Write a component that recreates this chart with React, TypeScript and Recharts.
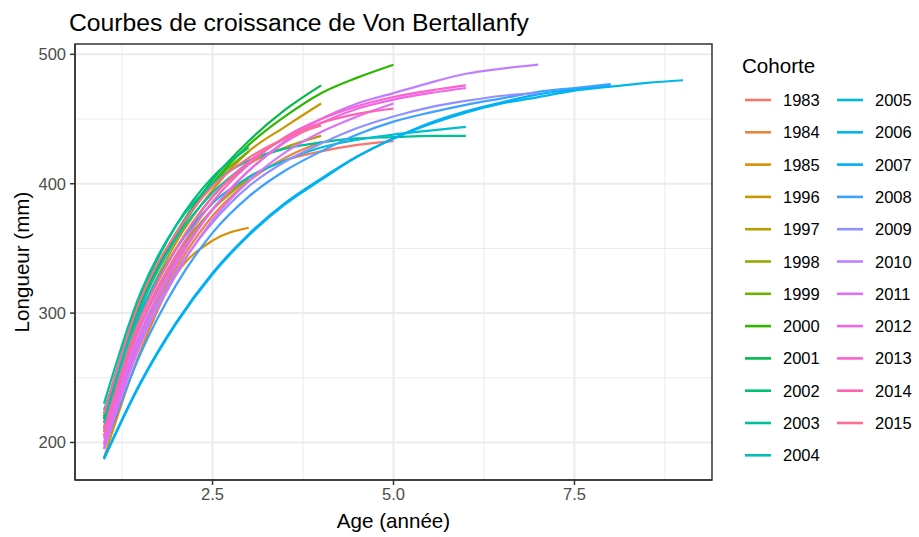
import React from "react";
import {
  CartesianGrid,
  Line,
  LineChart,
  ReferenceArea,
  XAxis,
  YAxis,
} from "recharts";

const AGES = [1, 1.5, 2, 2.5, 3, 3.5, 4, 4.5, 5, 5.5, 6, 6.5, 7, 7.5, 8, 8.5, 9];

const COHORTS = [
  "1983", "1984", "1985", "1996", "1997", "1998", "1999", "2000", "2001", "2002", "2003", "2004",
  "2005", "2006", "2007", "2008", "2009", "2010", "2011", "2012", "2013", "2014", "2015",
];

// Longueur (mm) at AGES[i]
const C1983 = [215, 290, 342, 380, 405, 418, 425, 430, 433];
const C1984 = [205, 282, 335, 375, 402, 420, 432];
const C1985 = [188, 270, 330, 356, 366];
const C1996 = [210, 298, 355, 395, 425, 444, 462];
const C1997 = [212, 295, 350, 390, 415, 428, 437];
const C1998 = [208, 290, 345, 380, 404];
const C1999 = [218, 308, 362, 400, 425];
const C2000 = [220, 305, 360, 400, 430, 452, 470, 482, 492];
const C2001 = [218, 305, 362, 403, 433, 457, 476];
const C2002 = [222, 312, 368, 405, 428];
const C2003 = [230, 315, 368, 400, 418, 427, 432, 435, 436, 437, 437];
const C2004 = [215, 303, 358, 393, 416];
const C2005 = [225, 300, 350, 385, 405, 418, 428, 434, 438, 441, 444];
const C2006 = [187, 245, 292, 330, 360, 384, 403, 421, 435, 446, 455, 462, 467, 472, 475, 478, 480];
const C2007 = [188, 246, 293, 331, 361, 385, 404, 421, 435, 447, 456, 463, 469, 473, 476];
const C2008 = [195, 268, 322, 362, 390, 410, 425, 438, 448, 455, 461, 466, 471, 474, 477];
const C2009 = [200, 278, 332, 370, 398, 417, 431, 443, 452, 459, 464, 468, 470];
const C2010 = [203, 285, 340, 380, 410, 433, 450, 462, 470, 478, 485, 489, 492];
const C2011 = [195, 275, 330, 372, 402, 424, 440, 452, 462];
const C2012 = [198, 282, 338, 380, 410, 432, 447, 458, 465, 470, 474];
const C2013 = [205, 290, 345, 386, 415, 436, 450, 460, 467, 472, 476];
const C2014 = [210, 295, 350, 390, 417, 435, 447, 454, 458];
const C2015 = [222, 310, 362, 398, 420, 435, 445];

const SERIES = [
  C1983, C1984, C1985, C1996, C1997, C1998, C1999, C2000, C2001, C2002, C2003, C2004,
  C2005, C2006, C2007, C2008, C2009, C2010, C2011, C2012, C2013, C2014, C2015,
];

const X_DOMAIN = [0.6, 9.4];
const Y_DOMAIN = [171, 508];
const X_TICKS = [2.5, 5, 7.5];
const X_MINOR = [1.25, 3.75, 6.25, 8.75];
const Y_TICKS = [200, 300, 400, 500];
const Y_MINOR = [250, 350, 450];

const FONT = "'Liberation Sans', Arial, sans-serif";

// ggplot2 hue_pal(): hcl(h, c = 100, l = 65)
function hcl(h: number, c = 100, l = 65) {
  const WY = 100, Wu = 0.1978398, Wv = 0.4683363;
  const hr = (h * Math.PI) / 180;
  const U = c * Math.cos(hr), V = c * Math.sin(hr);
  const Y = WY * (l > 7.999592 ? Math.pow((l + 16) / 116, 3) : l / 903.3);
  const u = U / (13 * l) + Wu, v = V / (13 * l) + Wv;
  const X = (9 * Y * u) / (4 * v);
  const Z = -X / 3 - 5 * Y + (3 * Y) / v;
  const g = (t: number) => (t > 0.00304 ? 1.055 * Math.pow(t, 1 / 2.4) - 0.055 : 12.92 * t);
  const ch = (t: number) => {
    const n = Math.round(Math.min(1, Math.max(0, g(t))) * 255);
    return n.toString(16).padStart(2, "0");
  };
  return (
    "#" +
    ch((3.240479 * X - 1.53715 * Y - 0.498535 * Z) / WY) +
    ch((-0.969256 * X + 1.875992 * Y + 0.041556 * Z) / WY) +
    ch((0.055648 * X - 0.204043 * Y + 1.057311 * Z) / WY)
  );
}

const COLORS = COHORTS.map((_, i) => hcl(15 + (360 * i) / COHORTS.length));

const seriesData = SERIES.map((vals) => vals.map((len, i) => ({ age: AGES[i], len })));

// grid positions from the plot offset and the axis domains
const gridX = (vals: number[]) => ({ offset }: any) =>
  vals.map((v) => offset.left + ((v - X_DOMAIN[0]) / (X_DOMAIN[1] - X_DOMAIN[0])) * offset.width);
const gridY = (vals: number[]) => ({ offset }: any) =>
  vals.map((v) => offset.top + ((Y_DOMAIN[1] - v) / (Y_DOMAIN[1] - Y_DOMAIN[0])) * offset.height);

function CohortLegend() {
  const rowH = 32.3;
  return (
    <g transform="translate(720 40)">
      <text x={22} y={33} fontSize={20.6} fontFamily={FONT} fill="#000">
        Cohorte
      </text>
      {COHORTS.map((name, i) => {
        const col = i < 12 ? 0 : 1;
        const row = i < 12 ? i : i - 12;
        const y = 60 + row * rowH;
        const x0 = col === 0 ? 25 : 117;
        return (
          <g key={name}>
            <line x1={x0} x2={x0 + 26} y1={y} y2={y} stroke={COLORS[i]} strokeWidth={2.6} />
            <text x={x0 + 38} y={y + 6} fontSize={16.5} fontFamily={FONT} fill="#000">
              {name}
            </text>
          </g>
        );
      })}
    </g>
  );
}

export default function App() {
  return (
    <div style={{ position: "absolute", left: 0, top: 0, width: 919, height: 537, background: "#fff" }}>
      <LineChart
        width={919}
        height={537}
        margin={{ top: 44, right: 207, bottom: 0, left: 0 }}
        style={{ fontFamily: FONT }}
      >
        <CartesianGrid
          stroke="#EBEBEB"
          strokeWidth={1}
          verticalCoordinatesGenerator={gridX(X_MINOR)}
          horizontalCoordinatesGenerator={gridY(Y_MINOR)}
        />
        <CartesianGrid
          stroke="#EBEBEB"
          strokeWidth={2}
          verticalCoordinatesGenerator={gridX(X_TICKS)}
          horizontalCoordinatesGenerator={gridY(Y_TICKS)}
        />
        <XAxis
          type="number"
          dataKey="age"
          domain={X_DOMAIN}
          ticks={X_TICKS}
          tickFormatter={(v: number) => v.toFixed(1)}
          allowDataOverflow
          height={57}
          tickSize={5}
          tickMargin={3}
          axisLine={{ stroke: "#333333", strokeWidth: 1.5 }}
          tickLine={{ stroke: "#333333", strokeWidth: 1.5 }}
          tick={{ fill: "#4D4D4D", fontSize: 16.5, fontFamily: FONT }}
        />
        <YAxis
          type="number"
          domain={Y_DOMAIN}
          ticks={Y_TICKS}
          allowDataOverflow
          width={75}
          tickSize={5}
          tickMargin={4}
          axisLine={{ stroke: "#333333", strokeWidth: 1.5 }}
          tickLine={{ stroke: "#333333", strokeWidth: 1.5 }}
          tick={{ fill: "#4D4D4D", fontSize: 16.5, fontFamily: FONT }}
        />
        {seriesData.map((d, i) => (
          <Line
            key={COHORTS[i]}
            data={d}
            dataKey="len"
            name={COHORTS[i]}
            type="monotone"
            stroke={COLORS[i]}
            strokeWidth={2.2}
            dot={false}
            isAnimationActive={false}
          />
        ))}
        <ReferenceArea
          x1={X_DOMAIN[0]}
          x2={X_DOMAIN[1]}
          y1={Y_DOMAIN[0]}
          y2={Y_DOMAIN[1]}
          fill="none"
          stroke="#333333"
          strokeWidth={1.5}
        />
      </LineChart>
      <svg
        width={919}
        height={537}
        style={{ position: "absolute", left: 0, top: 0, pointerEvents: "none" }}
      >
        <text x={69} y={31} fontSize={24.7} fontFamily={FONT} fill="#000">
          Courbes de croissance de Von Bertallanfy
        </text>
        <text x={393.5} y={528} fontSize={20.6} fontFamily={FONT} fill="#000" textAnchor="middle">
          Age (année)
        </text>
        <text
          x={0}
          y={0}
          fontSize={20.6}
          fontFamily={FONT}
          fill="#000"
          textAnchor="middle"
          transform="translate(29 262) rotate(-90)"
        >
          Longueur (mm)
        </text>
        <CohortLegend />
      </svg>
    </div>
  );
}
